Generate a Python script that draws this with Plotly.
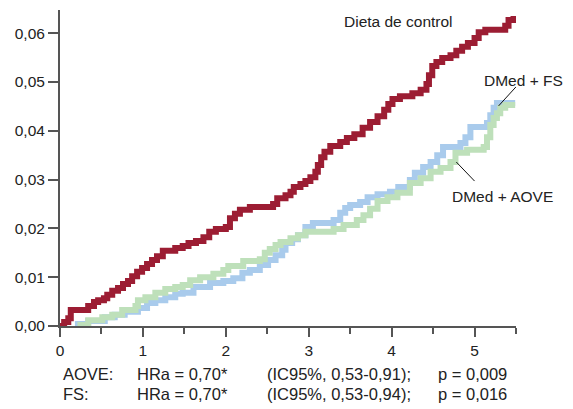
import plotly.graph_objects as go

# Years of follow-up and cumulative incidence (step points)
control_t = [0, 0.05, 0.10, 0.13, 0.34, 0.41, 0.46, 0.53, 0.57, 0.63, 0.70, 0.76, 0.82, 0.87, 0.93,
             0.99, 1.05, 1.11, 1.17, 1.24, 1.39, 1.48, 1.55, 1.64, 1.73, 1.80, 1.88, 2.00, 2.05, 2.11,
             2.17, 2.29, 2.57, 2.62, 2.72, 2.78, 2.82, 2.90, 2.96, 3.02, 3.08, 3.11, 3.15, 3.19, 3.26,
             3.38, 3.46, 3.55, 3.65, 3.74, 3.83, 3.91, 3.96, 4.01, 4.10, 4.25, 4.35, 4.42, 4.45, 4.49,
             4.54, 4.61, 4.71, 4.78, 4.85, 4.92, 5.00, 5.05, 5.13, 5.37, 5.41, 5.47]
control_y = [0, 0.0008, 0.0016, 0.0033, 0.0041, 0.0049, 0.0053, 0.0057, 0.0064, 0.0072, 0.0078, 0.0086,
             0.0092, 0.0102, 0.0111, 0.0119, 0.0127, 0.0135, 0.0143, 0.0154, 0.0160, 0.0164, 0.0170,
             0.0174, 0.0182, 0.0193, 0.0199, 0.0203, 0.0221, 0.0230, 0.0238, 0.0244, 0.0250, 0.0262,
             0.0268, 0.0275, 0.0285, 0.0291, 0.0297, 0.0305, 0.0316, 0.0330, 0.0346, 0.0357, 0.0369,
             0.0377, 0.0385, 0.0393, 0.0406, 0.0418, 0.0430, 0.0443, 0.0455, 0.0465, 0.0471, 0.0477,
             0.0484, 0.0496, 0.0514, 0.0533, 0.0541, 0.0549, 0.0555, 0.0564, 0.0572, 0.0580, 0.0590,
             0.0602, 0.0607, 0.0615, 0.0627, 0.0635]

fs_t = [0.18, 0.34, 0.54, 0.66, 0.78, 0.94, 1.05, 1.15, 1.27, 1.39, 1.48, 1.61, 1.81, 1.97, 2.09, 2.20,
        2.29, 2.41, 2.51, 2.60, 2.68, 2.72, 2.80, 2.87, 2.96, 3.05, 3.30, 3.38, 3.44, 3.50, 3.62, 3.71,
        3.83, 3.98, 4.08, 4.22, 4.28, 4.38, 4.47, 4.55, 4.62, 4.83, 4.89, 4.95, 5.15, 5.19, 5.23, 5.27, 5.49]
fs_y = [0.0004, 0.0010, 0.0018, 0.0023, 0.0029, 0.0037, 0.0047, 0.0053, 0.0059, 0.0066, 0.0068, 0.0080,
        0.0088, 0.0092, 0.0098, 0.0109, 0.0115, 0.0125, 0.0135, 0.0145, 0.0156, 0.0170, 0.0178, 0.0186,
        0.0203, 0.0211, 0.0217, 0.0232, 0.0242, 0.0248, 0.0254, 0.0264, 0.0270, 0.0275, 0.0285, 0.0299,
        0.0314, 0.0326, 0.0336, 0.0350, 0.0367, 0.0375, 0.0387, 0.0408, 0.0416, 0.0432, 0.0447, 0.0457, 0.0457]

aove_t = [0.21, 0.34, 0.51, 0.63, 0.75, 0.91, 0.94, 1.03, 1.15, 1.27, 1.39, 1.48, 1.57, 1.69, 1.85, 1.97,
          2.03, 2.21, 2.41, 2.47, 2.53, 2.60, 2.66, 2.78, 2.87, 2.96, 3.30, 3.42, 3.58, 3.66, 3.74, 3.83,
          3.95, 4.07, 4.22, 4.35, 4.47, 4.59, 4.71, 4.77, 4.91, 5.11, 5.15, 5.19, 5.23, 5.27, 5.31, 5.37, 5.49]
aove_y = [0.0002, 0.0012, 0.0018, 0.0023, 0.0033, 0.0041, 0.0053, 0.0059, 0.0068, 0.0076, 0.0080, 0.0084,
          0.0094, 0.0100, 0.0107, 0.0115, 0.0123, 0.0133, 0.0137, 0.0150, 0.0158, 0.0166, 0.0172, 0.0180,
          0.0186, 0.0193, 0.0199, 0.0207, 0.0217, 0.0227, 0.0240, 0.0256, 0.0264, 0.0273, 0.0293, 0.0303,
          0.0316, 0.0324, 0.0336, 0.0355, 0.0361, 0.0367, 0.0387, 0.0412, 0.0426, 0.0436, 0.0447, 0.0453, 0.0453]

x_ticks = [0, 1, 2, 3, 4, 5]
y_ticks = [0.00, 0.01, 0.02, 0.03, 0.04, 0.05, 0.06]

stats_rows = [
    ["AOVE:", "HRa = 0,70*", "(IC95%, 0,53-0,91);", "p = 0,009"],
    ["FS:", "HRa = 0,70*", "(IC95%, 0,53-0,94);", "p = 0,016"],
]

RED = "#9C1D33"
BLUE = "#A9CBEC"
GREEN = "#BEE0BA"
AXIS = "#555555"
TXT = "#222222"
FONT = "Liberation Sans, Arial, sans-serif"

fig = go.Figure()
fig.add_trace(go.Scatter(x=fs_t, y=fs_y, mode="lines", line=dict(color=BLUE, width=6, shape="hv"),
                         showlegend=False, hoverinfo="skip"))
fig.add_trace(go.Scatter(x=aove_t, y=aove_y, mode="lines", line=dict(color=GREEN, width=6, shape="hv"),
                         showlegend=False, hoverinfo="skip"))
fig.add_trace(go.Scatter(x=control_t, y=control_y, mode="lines", line=dict(color=RED, width=6, shape="hv"),
                         showlegend=False, hoverinfo="skip"))

annotations = [
    dict(x=4.08, y=0.0623, text="Dieta de control", showarrow=False, xref="x", yref="y",
         xanchor="center", font=dict(size=15.5, color=TXT, family=FONT)),
    dict(x=1.016, y=0.0504, text="DMed + FS", showarrow=False, xref="paper", yref="y",
         xanchor="center", font=dict(size=15.5, color=TXT, family=FONT)),
    dict(x=5.34, y=0.0266, text="DMed + AOVE", showarrow=False, xref="x", yref="y",
         xanchor="center", font=dict(size=15.5, color=TXT, family=FONT)),
]
col_x = [0.015, 0.91, 2.47, 4.53]
row_y = [-0.152, -0.215]
for r, row in enumerate(stats_rows):
    for c, txt in enumerate(row):
        annotations.append(dict(x=col_x[c], y=row_y[r], text=txt, showarrow=False, xref="x", yref="paper",
                                xanchor="left", yanchor="middle",
                                font=dict(size=16.5, color=TXT, family=FONT)))

shapes = [
    dict(type="line", x0=5.50, y0=0.0490, x1=5.29, y1=0.0451, xref="x", yref="y",
         line=dict(color="#111111", width=1)),
    dict(type="line", x0=4.78, y0=0.0336, x1=5.00, y1=0.0297, xref="x", yref="y",
         line=dict(color="#111111", width=1)),
]

fig.update_layout(
    width=573, height=409,
    margin=dict(l=60, r=57, t=10, b=83),
    paper_bgcolor="white", plot_bgcolor="white",
    separators=",.",
    annotations=annotations, shapes=shapes,
    font=dict(family=FONT, size=15.5, color=TXT),
)
fig.update_xaxes(range=[0, 5.5], tickvals=x_ticks, ticks="outside", ticklen=9, tickwidth=1.5,
                 tickcolor=AXIS, showline=True, linecolor=AXIS, linewidth=2, showgrid=False,
                 zeroline=False, tickfont=dict(size=15.5, color=TXT, family=FONT),
                 minor=dict(dtick=0.5, ticks="outside", ticklen=6, tickwidth=1.5, tickcolor=AXIS))
fig.update_yaxes(range=[0, 0.06475], tickvals=y_ticks, tickformat=".2f", ticks="outside", ticklen=10,
                 tickwidth=1.5, tickcolor=AXIS, showline=True, linecolor=AXIS, linewidth=2,
                 showgrid=False, zeroline=False, tickfont=dict(size=15.5, color=TXT, family=FONT))

fig.write_html("out.html", config={"displayModeBar": False},
               post_script="document.body.style.margin='0';document.body.style.padding='0';")
